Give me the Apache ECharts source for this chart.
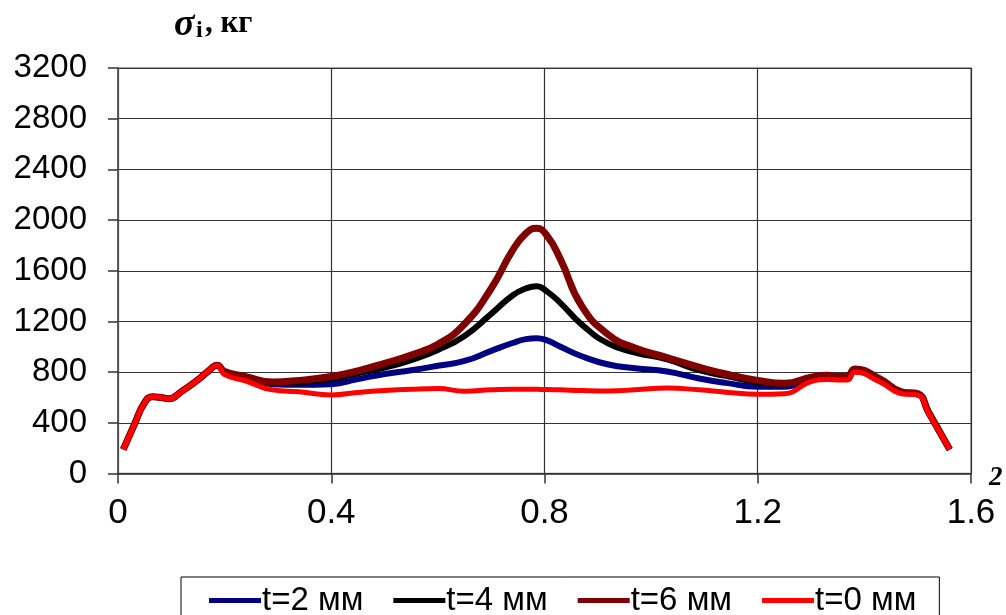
<!DOCTYPE html>
<html><head><meta charset="utf-8">
<script src="https://cdn.jsdelivr.net/npm/echarts@6/dist/echarts.min.js"></script>
<style>html,body{margin:0;padding:0;background:#fff}#c{width:1006px;height:615px}</style>
</head><body><div id="c"></div>
<script>
const xs = [0.01,0.03,0.05,0.065,0.08,0.095,0.12,0.15,0.17,0.186,0.2,0.24,0.29,0.34,0.4,0.45,0.5,0.55,0.6,0.65,0.7,0.74,0.765,0.785,0.805,0.83,0.87,0.92,0.97,1.03,1.09,1.14,1.2,1.25,1.3,1.33,1.355,1.368,1.382,1.43,1.47,1.5,1.52,1.56];
const t2 = [190,380,560,605,600,590,650,740,810,855, 800,755,705,700,705, 745,785,815,850,888, 968,1030,1060,1068,1050, 1000,925,860,830,805, 750,715,685,685,740, 755,745,745,808,730, 638,625,482,190];
const t4 = [190,380,560,605,600,590,650,740,810,855, 800,760,715,722,745, 790,835,895,975,1085, 1260,1405,1460,1478,1435, 1345,1175,1025,955,900, 815,770,720,705,752, 765,755,752,815,738, 642,628,485,190];
const t6 = [190,380,560,605,600,590,650,740,810,855, 805,765,722,735,765, 810,870,935,1020,1180, 1460,1760,1895,1935,1875, 1690,1320,1095,990,915, 840,785,735,712,760, 775,765,765,825,745, 645,630,488,190];
const t0 = [190,380,560,605,600,590,650,740,810,855, 780,730,660,645,620, 640,655,665,670,650, 660,665,665,665,662, 660,655,652,660,675, 660,642,625,630,725, 742,737,738,800,720, 630,620,480,190];
const names = ['t=2 мм','t=4 мм','t=6 мм','t=0 мм'];
const colors = ['#000080','#000000','#800000','#ff0000'];
const widths = [6,6,7,5];
const seriesData = [t2,t4,t6,t0];

const chart = echarts.init(document.getElementById('c'));
chart.setOption({
  animation:false,
  backgroundColor:'#fff',
  grid:{left:118,right:35,top:68,bottom:141.5,containLabel:false,show:true,borderColor:'#888',borderWidth:1.5},
  xAxis:{type:'value',min:0,max:1.6,interval:0.4,
    axisLine:{show:true,onZero:false,lineStyle:{color:'#333',width:1.5}},
    axisTick:{show:true,length:10,inside:false,lineStyle:{color:'#333',width:1.5}},
    axisLabel:{margin:22,color:'#000',fontSize:35,fontFamily:'Liberation Sans, Arial, sans-serif',formatter:v=>String(+v.toFixed(1))},
    splitLine:{show:true,lineStyle:{color:'#333',width:1.2}}},
  yAxis:{type:'value',min:0,max:3200,interval:400,
    axisLine:{show:true,lineStyle:{color:'#555',width:1.5}},
    axisTick:{show:true,length:10,inside:false,lineStyle:{color:'#333',width:1.5}},
    axisLabel:{margin:31,color:'#000',fontSize:33,fontFamily:'Liberation Sans, Arial, sans-serif',formatter:v=>String(v)},
    splitLine:{show:true,lineStyle:{color:'#333',width:1.2}}},
  legend:{left:181,top:577,width:800,data:names,icon:'rect',itemWidth:52,itemHeight:5,itemGap:30,itemSymbolGap:0,
    borderColor:'#000',borderWidth:1,padding:[7,23,40,28],
    textStyle:{fontSize:33,color:'#000',fontFamily:'Liberation Sans, Arial, sans-serif',padding:[0,0,0,-4]}},
  series:names.map((n,i)=>({name:n,type:'line',smooth:0.5,showSymbol:false,symbol:'none',
    data:xs.map((x,j)=>[x,seriesData[i][j]]),
    lineStyle:{color:colors[i],width:widths[i]},itemStyle:{color:colors[i]},z:2+i})),
  graphic:[
    {type:'text',left:174,top:6,style:{text:'σ',font:'italic bold 38px "Liberation Serif", serif',fill:'#000'}},
    {type:'text',left:196,top:19,style:{text:'i',font:'bold 24px "Liberation Serif", serif',fill:'#000'}},
    {type:'text',left:205,top:8,style:{text:', кг',font:'bold 31px "Liberation Serif", serif',fill:'#000'}},
    {type:'text',left:989,top:465,style:{text:'2',font:'italic bold 27px "Liberation Serif", serif',fill:'#000'}}
  ]
});
</script></body></html>
